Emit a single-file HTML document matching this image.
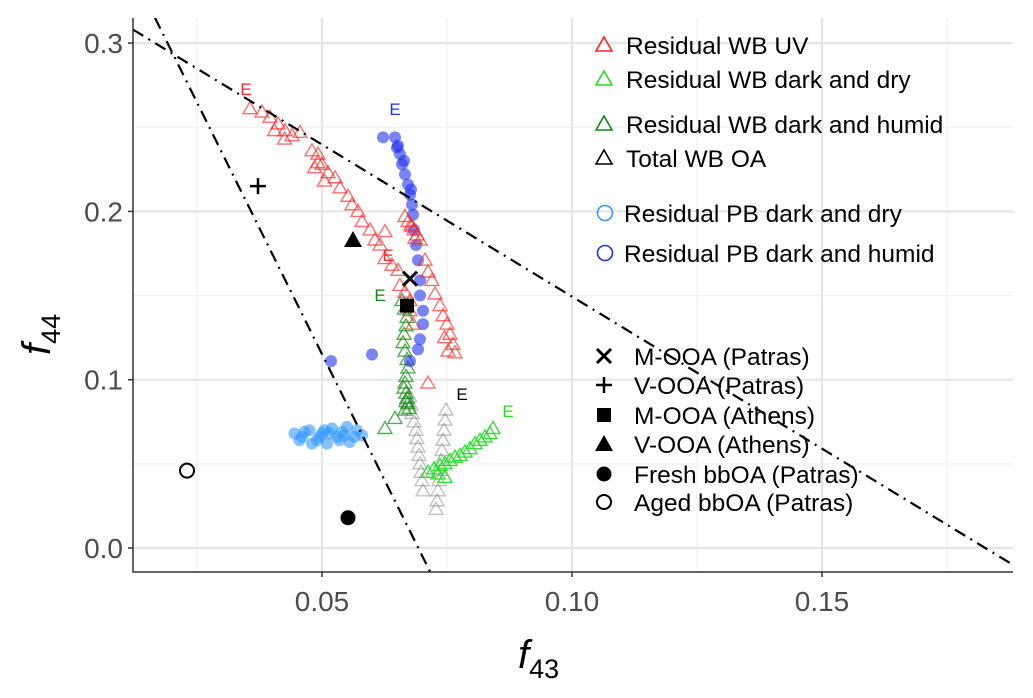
<!DOCTYPE html>
<html><head><meta charset="utf-8"><style>
body{margin:0;background:#fff;}
svg{display:block;font-family:"Liberation Sans",sans-serif;}
</style></head><body>
<svg id="chart" width="1033" height="698"></svg>
<script>
const xTicks=[0.05,0.10,0.15];
const xTickLabels=["0.05","0.10","0.15"];
const yTicks=[0.0,0.1,0.2,0.3];
const yTickLabels=["0.0","0.1","0.2","0.3"];
const redX=[0.0356,0.038,0.0396,0.0412,0.0426,0.044,0.0456,0.048,0.0492,0.0492,0.05,0.0512,0.0526,0.0536,0.0552,0.056,0.0572,0.058,0.0596,0.0606,0.0616,0.0626,0.0626,0.064,0.0652,0.0656,0.0666,0.0676,0.0676,0.0682,0.0666,0.0672,0.0678,0.0684,0.069,0.0696,0.0686,0.068,0.0706,0.0712,0.072,0.0726,0.0736,0.0742,0.075,0.0756,0.0762,0.0766,0.0752,0.0712,0.0745,0.0425,0.0405,0.0485,0.0505];
const redY=[0.261,0.259,0.256,0.252,0.248,0.245,0.247,0.236,0.234,0.229,0.228,0.223,0.220,0.214,0.209,0.204,0.200,0.194,0.189,0.183,0.180,0.188,0.172,0.168,0.165,0.156,0.152,0.147,0.141,0.133,0.197,0.194,0.192,0.189,0.186,0.183,0.184,0.191,0.171,0.164,0.159,0.151,0.144,0.138,0.133,0.127,0.121,0.116,0.117,0.098,0.125,0.243,0.248,0.226,0.218];
const blueX=[0.0622,0.0646,0.0652,0.0656,0.066,0.0666,0.0672,0.0676,0.068,0.0682,0.0684,0.0688,0.0692,0.0696,0.0696,0.0702,0.0702,0.0696,0.0692,0.0676,0.0518,0.06,0.065,0.0664,0.0678];
const blueY=[0.244,0.244,0.239,0.234,0.228,0.222,0.216,0.210,0.204,0.198,0.189,0.180,0.171,0.159,0.150,0.141,0.133,0.124,0.118,0.111,0.111,0.115,0.238,0.230,0.213];
const lblueX=[0.0445,0.046,0.0475,0.049,0.05,0.051,0.052,0.053,0.054,0.0555,0.057,0.058,0.0465,0.048,0.0495,0.0515,0.0535,0.055,0.0565,0.0455,0.0505,0.0545];
const lblueY=[0.068,0.066,0.070,0.064,0.068,0.062,0.071,0.066,0.069,0.063,0.070,0.067,0.069,0.062,0.066,0.068,0.064,0.072,0.066,0.064,0.070,0.067];
const dgreenX=[0.066,0.0665,0.067,0.0668,0.0664,0.0662,0.0666,0.067,0.0672,0.0668,0.0666,0.0664,0.0668,0.067,0.0672,0.0674,0.0626,0.0646,0.0666,0.0668];
const dgreenY=[0.147,0.142,0.137,0.132,0.127,0.122,0.117,0.112,0.107,0.102,0.098,0.095,0.092,0.089,0.086,0.083,0.071,0.077,0.082,0.087];
const lgreenX=[0.0712,0.0724,0.0736,0.0746,0.0756,0.0766,0.0776,0.0786,0.0796,0.0806,0.0816,0.0826,0.0836,0.0842,0.0746,0.0732];
const lgreenY=[0.045,0.047,0.049,0.050,0.052,0.054,0.055,0.057,0.059,0.062,0.064,0.066,0.068,0.071,0.042,0.044];
const greyX=[0.0675,0.0678,0.068,0.0684,0.0688,0.069,0.0692,0.0694,0.0696,0.0698,0.07,0.0702,0.0748,0.0746,0.0744,0.0742,0.074,0.0738,0.0736,0.0734,0.0732,0.073,0.0728];
const greyY=[0.090,0.085,0.080,0.075,0.070,0.065,0.060,0.055,0.050,0.045,0.040,0.034,0.082,0.076,0.070,0.064,0.058,0.052,0.046,0.040,0.034,0.028,0.023];
const refNames=["M-OOA (Patras)","V-OOA (Patras)","M-OOA (Athens)","V-OOA (Athens)","Fresh bbOA (Patras)","Aged bbOA (Patras)"];
const refX=[0.0676,0.0372,0.067,0.0562,0.0552,0.023];
const refY=[0.160,0.215,0.144,0.183,0.018,0.046];
const line1X=[0.0122,0.1882], line1Y=[0.308,-0.010];
const line2X=[0.0166,0.0716], line2Y=[0.315,-0.014];

const NS="http://www.w3.org/2000/svg";
const svg=document.getElementById('chart');
const L=133,R=1013,T=18,B=572;
const sx=v=>322+(v-0.05)*5000;
const sy=v=>548-v*1683;
function mk(tag,attrs,parent){const e=document.createElementNS(NS,tag);for(const k in attrs)e.setAttribute(k,attrs[k]);(parent||svg).appendChild(e);return e;}
const clip=mk('clipPath',{id:'pc'});mk('rect',{x:L,y:T,width:R-L,height:B-T},clip);
const grid=mk('g',{});


[0.025,0.075,0.125,0.175].forEach(v=>mk('line',{x1:sx(v),x2:sx(v),y1:T,y2:B,stroke:'#f0f0f0','stroke-width':1.2},grid));
[0.05,0.15,0.25].forEach(v=>mk('line',{x1:L,x2:R,y1:sy(v),y2:sy(v),stroke:'#f0f0f0','stroke-width':1.2},grid));
xTicks.forEach(v=>mk('line',{x1:sx(v),x2:sx(v),y1:T,y2:B,stroke:'#e6e6e6','stroke-width':2.2},grid));
yTicks.forEach(v=>mk('line',{x1:L,x2:R,y1:sy(v),y2:sy(v),stroke:'#e6e6e6','stroke-width':2.2},grid));
const pts=mk('g',{'clip-path':'url(#pc)'});


function tri(x,y,col,op,parent,fill){const X=sx(x),Y=sy(y);return mk('path',{d:`M${X},${Y-7}L${X+7},${Y+5}L${X-7},${Y+5}Z`,fill:fill||'none',stroke:col,'stroke-width':1.4,'stroke-opacity':op,'fill-opacity':op},parent);}
function series(xs,ys,col,op,name,shape){const g=mk('g',{},pts);
 xs.forEach((x,i)=>{let e;if(shape==='c')e=mk('circle',{cx:sx(x),cy:sy(ys[i]),r:6,fill:col,'fill-opacity':op},g);else e=tri(x,ys[i],col,op,g);
 
 });}
series(lblueX,lblueY,'#3399ff',0.6,'residual-pb-dark-dry','c');
series(greyX,greyY,'#666',0.4,'total-wb-oa','t');
series(lgreenX,lgreenY,'#22dd22',0.9,'residual-wb-dark-dry','t');
series(dgreenX,dgreenY,'#118811',0.7,'residual-wb-dark-humid','t');
series(blueX,blueY,'#2233ee',0.6,'residual-pb-dark-humid','c');
series(redX,redY,'#ff2222',0.65,'residual-wb-uv','t');
[[line1X,line1Y,'boundary-line-upper'],[line2X,line2Y,'boundary-line-lower']].forEach(([xs,ys,n])=>{const l=mk('line',{x1:sx(xs[0]),y1:sy(ys[0]),x2:sx(xs[1]),y2:sy(ys[1]),stroke:'#000','stroke-width':2.2,'stroke-dasharray':'12,6,2,6'},pts);
 
 });
function refMarker(i,X,Y,g){
 if(i===0){mk('path',{d:`M${X-7},${Y-7}L${X+7},${Y+7}M${X+7},${Y-7}L${X-7},${Y+7}`,stroke:'#000','stroke-width':3},g);}
 else if(i===1){mk('path',{d:`M${X-8},${Y}L${X+8},${Y}M${X},${Y-8}L${X},${Y+8}`,stroke:'#000','stroke-width':2.5},g);}
 else if(i===2){mk('rect',{x:X-7,y:Y-7,width:14,height:14,fill:'#000'},g);}
 else if(i===3){mk('path',{d:`M${X},${Y-9}L${X+9},${Y+7}L${X-9},${Y+7}Z`,fill:'#000'},g);}
 else if(i===4){mk('circle',{cx:X,cy:Y,r:7.5,fill:'#000'},g);}
 else {mk('circle',{cx:X,cy:Y,r:7,fill:'#fff',stroke:'#000','stroke-width':2},g);}
}
refX.forEach((x,i)=>{const g=mk('g',{},pts);refMarker(i,sx(x),sy(refY[i]),g);});
[[246,95,'#ff2222'],[388,261,'#ff2222'],[395,115,'#2233ee'],[380,301,'#118811'],[462,400,'#000'],[508,417,'#22dd22']].forEach(([x,y,c])=>{const t=mk('text',{x:x,y:y,fill:c,'font-size':17,'text-anchor':'middle'});t.textContent='E';
 
 });
mk('path',{d:`M${L},${T}L${L},${B}L${R},${B}`,fill:'none',stroke:'#333','stroke-width':1.5});
xTicks.forEach((v,i)=>{mk('line',{x1:sx(v),x2:sx(v),y1:B,y2:B+5,stroke:'#333','stroke-width':1.5});const t=mk('text',{x:sx(v),y:611,'font-size':28,fill:'#4d4d4d','text-anchor':'middle'});t.textContent=xTickLabels[i];
 
 });
yTicks.forEach((v,i)=>{mk('line',{x1:L-5,x2:L,y1:sy(v),y2:sy(v),stroke:'#333','stroke-width':1.5});const t=mk('text',{x:L-10,y:sy(v)+10,'font-size':28,fill:'#4d4d4d','text-anchor':'end'});t.textContent=yTickLabels[i];
 
 });
const xt=mk('text',{x:518,y:668,'font-size':40,'font-style':'italic',fill:'#000'});xt.innerHTML='f<tspan font-size="27" dy="10" font-style="normal">43</tspan>';


const yt=mk('text',{x:0,y:0,'font-size':40,'font-style':'italic',fill:'#000',transform:'translate(50,355) rotate(-90)'});yt.innerHTML='f<tspan font-size="27" dy="10" font-style="normal">44</tspan>';


const legNames=['Residual WB UV','Residual WB dark and dry','Residual WB dark and humid','Total WB OA','Residual PB dark and dry','Residual PB dark and humid'];
const legCols=['#ff2222','#22dd22','#118811','#000','#3399ff','#2233ee'];
const legY=[45,79,124,158,213,253];
const lg=mk('g',{});
legNames.forEach((n,i)=>{const g=mk('g',{},lg);
 const y=legY[i];
 if(i<4)mk('path',{d:`M604,${y-8}L612,${y+6}L596,${y+6}Z`,fill:'none',stroke:legCols[i],'stroke-width':1.6},g);
 else mk('circle',{cx:605,cy:y,r:7.5,fill:'none',stroke:legCols[i],'stroke-width':1.6},g);
 const t=mk('text',{x:i<4?626:624,y:y+9,'font-size':24.5,fill:'#000'},g);t.textContent=n;});
const lg2=mk('g',{});
const ref2Y=[356,385,415,444,474,502,531];
refNames.forEach((n,i)=>{const g=mk('g',{},lg2);
 refMarker(i,604,ref2Y[i],g);const t=mk('text',{x:634,y:ref2Y[i]+9,'font-size':24.5,fill:'#000'},g);t.textContent=n;});
</script>
</body></html>
